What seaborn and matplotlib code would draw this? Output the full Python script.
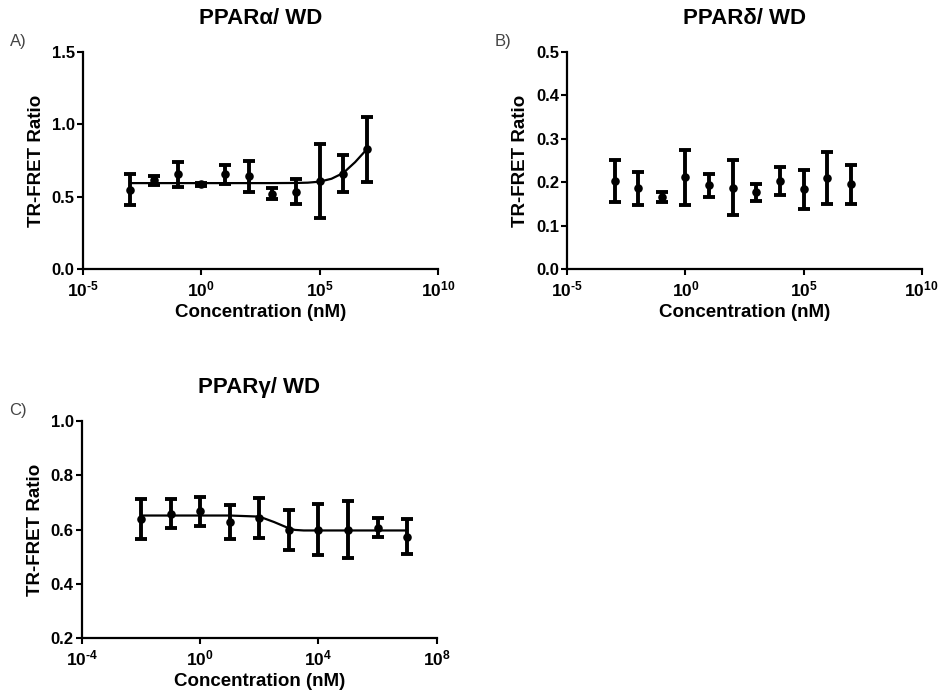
import matplotlib
matplotlib.use("Agg")
import matplotlib.pyplot as plt
import matplotlib.ticker as mticker
import numpy as np
import pandas as pd
import seaborn as sns

# ---- PPARalpha / WD ----
conc_ad = [1e-3, 1e-2, 1e-1, 1e0, 1e1, 1e2, 1e3, 1e4, 1e5, 1e6, 1e7]
alpha_mean = [0.55, 0.615, 0.655, 0.586, 0.657, 0.643, 0.52, 0.535, 0.61, 0.66, 0.83]
alpha_err = [0.108, 0.03, 0.088, 0.01, 0.065, 0.107, 0.038, 0.086, 0.258, 0.128, 0.224]
alpha_fit_x = [1e-3, 1e-2, 1e-1, 1e0, 1e1, 1e2, 1e3, 1e4, 3.16e4, 1e5, 3.16e5, 1e6, 3.16e6, 1e7]
alpha_fit_y = [0.595, 0.595, 0.595, 0.595, 0.595, 0.595, 0.595, 0.596, 0.598, 0.605, 0.625, 0.665, 0.74, 0.83]

# ---- PPARdelta / WD ----
delta_mean = [0.203, 0.186, 0.167, 0.212, 0.193, 0.188, 0.177, 0.203, 0.184, 0.211, 0.196]
delta_err = [0.049, 0.037, 0.012, 0.063, 0.027, 0.064, 0.019, 0.032, 0.045, 0.060, 0.045]

# ---- PPARgamma / WD ----
conc_g = [1e-2, 1e-1, 1e0, 1e1, 1e2, 1e3, 1e4, 1e5, 1e6, 1e7]
gamma_mean = [0.639, 0.658, 0.667, 0.628, 0.643, 0.599, 0.600, 0.600, 0.607, 0.574]
gamma_err = [0.072, 0.053, 0.052, 0.062, 0.075, 0.075, 0.093, 0.105, 0.035, 0.064]
gamma_fit_x = [1e-2, 1e-1, 1e0, 1e1, 3.16e1, 1e2, 3.16e2, 1e3, 1.6e3, 3.16e3, 1e4, 1e5, 1e6, 1e7]
gamma_fit_y = [0.652, 0.652, 0.652, 0.652, 0.650, 0.648, 0.628, 0.605, 0.599, 0.597, 0.597, 0.597, 0.597, 0.597]

titles = ["PPAR\u03b1/ WD", "PPAR\u03b4/ WD", "PPAR\u03b3/ WD"]
panel_tags = ["A)", "B)", "C)"]

sns.set_theme(style="ticks")
plt.rcParams["font.family"] = ["Liberation Sans", "DejaVu Sans"]
plt.rcParams["mathtext.fontset"] = "custom"
plt.rcParams["mathtext.bf"] = "Liberation Sans:bold"
plt.rcParams["mathtext.rm"] = "Liberation Sans:bold"
plt.rcParams["mathtext.default"] = "bf"
for key in ("text.color", "axes.labelcolor", "xtick.color", "ytick.color",
            "axes.edgecolor"):
    plt.rcParams[key] = "black"

W, H = 943, 696
fig = plt.figure(figsize=(W / 100, H / 100), dpi=100)


def box(left, top, right, bottom):
    return [left / W, 1 - bottom / H, (right - left) / W, (bottom - top) / H]


axA = fig.add_axes(box(83, 52, 438, 269.3))
axB = fig.add_axes(box(567.3, 52, 921.7, 269.3))
axC = fig.add_axes(box(82, 421, 436.7, 638.3))


def pow_fmt(v, pos):
    e = int(round(np.log10(v)))
    return r"$\mathbf{10^{%s}}$" % (("\u2010%d" % -e) if e < 0 else "%d" % e)


def style(ax, title, tag, xlim, xticks, ylim, yticks):
    ax.set_xscale("log")
    ax.set_xlim(*xlim)
    ax.set_ylim(*ylim)
    ax.xaxis.set_major_locator(mticker.FixedLocator(xticks))
    ax.xaxis.set_minor_locator(mticker.NullLocator())
    ax.xaxis.set_major_formatter(mticker.FuncFormatter(pow_fmt))
    ax.set_yticks(yticks)
    ax.yaxis.set_major_formatter(mticker.FormatStrFormatter("%.1f"))
    sns.despine(ax=ax)
    for s in ("left", "bottom"):
        ax.spines[s].set_linewidth(1.6)
        ax.spines[s].set_color("black")
    ax.tick_params(axis="y", length=4, width=1.5, color="black",
                   labelcolor="black", labelsize=12, pad=2)
    ax.tick_params(axis="x", length=4, width=1.5, color="black",
                   labelcolor="black", labelsize=12.5, pad=3)
    for lab in ax.get_yticklabels():
        lab.set_fontweight("bold")
    ax.set_xlabel("Concentration (nM)", fontsize=13.5, fontweight="bold",
                  labelpad=4, color="black")
    ax.set_ylabel("TR-FRET Ratio", fontsize=13.5, fontweight="bold",
                  labelpad=5, color="black")
    ax.set_title(title, fontsize=16, fontweight="bold", pad=20, color="black")
    ax.text(-0.205, 1.05, tag, transform=ax.transAxes, fontsize=12,
            color="#444444", ha="left", va="center")


def draw(ax, x, mean, err, fit_x=None, fit_y=None):
    if fit_x is not None:
        sns.lineplot(x=fit_x, y=fit_y, ax=ax, color="black", linewidth=1.6,
                     sort=False, legend=False)
    ax.errorbar(x, mean, yerr=err, fmt="none", ecolor="black",
                elinewidth=2.8, capsize=4, capthick=2.8, zorder=3)
    sns.scatterplot(x=x, y=mean, ax=ax, color="black", s=38, marker="o",
                    edgecolor="black", linewidth=0, zorder=4, legend=False)


draw(axA, conc_ad, alpha_mean, alpha_err, alpha_fit_x, alpha_fit_y)
style(axA, titles[0], panel_tags[0], (1e-5, 1e10), [1e-5, 1e0, 1e5, 1e10],
      (0, 1.5), [0.0, 0.5, 1.0, 1.5])

draw(axB, conc_ad, delta_mean, delta_err)
style(axB, titles[1], panel_tags[1], (1e-5, 1e10), [1e-5, 1e0, 1e5, 1e10],
      (0, 0.5), [0.0, 0.1, 0.2, 0.3, 0.4, 0.5])

draw(axC, conc_g, gamma_mean, gamma_err, gamma_fit_x, gamma_fit_y)
style(axC, titles[2], panel_tags[2], (1e-4, 1e8), [1e-4, 1e0, 1e4, 1e8],
      (0.2, 1.0), [0.2, 0.4, 0.6, 0.8, 1.0])

for ax in (axA, axB, axC):
    for a in ax.collections + ax.lines:
        a.set_clip_on(False)

fig.savefig("out.png", dpi=100, facecolor="white")
